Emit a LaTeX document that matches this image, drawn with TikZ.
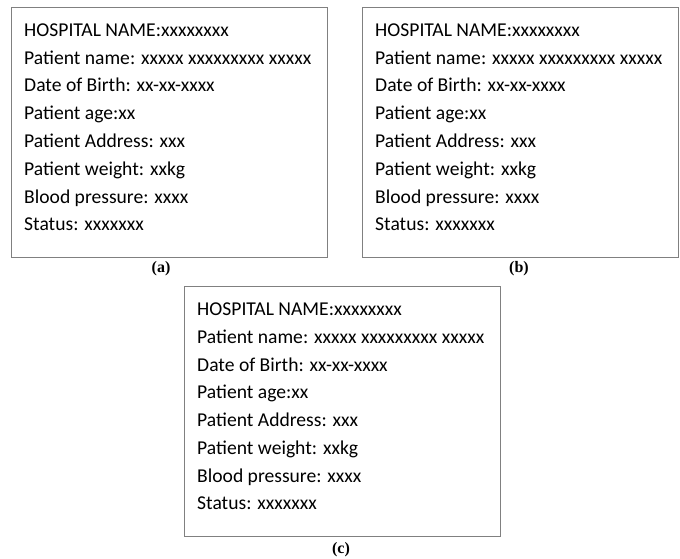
\documentclass[tikz,border=0pt]{standalone}
\usepackage{fontspec}
\setmainfont{Carlito}
\newfontfamily\capfont{Liberation Serif}
\definecolor{framegray}{HTML}{808080}
\tikzset{
  recbox/.style={draw=framegray,line width=1.2pt,rectangle,inner sep=0pt,
    minimum width=316pt,minimum height=250pt,anchor=north west},
  recline/.style={anchor=base west,inner sep=0pt,font=\fontsize{19.6}{19.6}\selectfont},
  subcap/.style={anchor=base,inner sep=0pt,font=\capfont\bfseries\fontsize{16}{16}\selectfont}
}
% one patient record: name, left, top
\newcommand{\patientrecord}[3]{
  \node[recbox] (#1) at (#2,#3) {};
  \foreach \i/\t in {0/HOSPITAL NAME:xxxxxxxx,1/Patient name: xxxxx xxxxxxxxx xxxxx,
    2/Date of Birth: xx-xx-xxxx,3/Patient age:xx,4/Patient Address: xxx,
    5/Patient weight: xxkg,6/Blood pressure: xxxx,7/Status: xxxxxxx}{
    \node[recline] (#1-\i) at (#2+13,#3+29.5+\i*27.75) {\t};
  }
}

\begin{document}
\begin{tikzpicture}[x=1pt,y=-1pt]
  \useasboundingbox (0,0) rectangle (680,559);
  \patientrecord{reca}{11}{7}
  \patientrecord{recb}{362}{7}
  \patientrecord{recc}{184}{286}
  \node[subcap] (capa) at (161,272) {(a)};
  \node[subcap] (capb) at (519,272) {(b)};
  \node[subcap] (capc) at (341,553) {(c)};
\end{tikzpicture}
\end{document}
